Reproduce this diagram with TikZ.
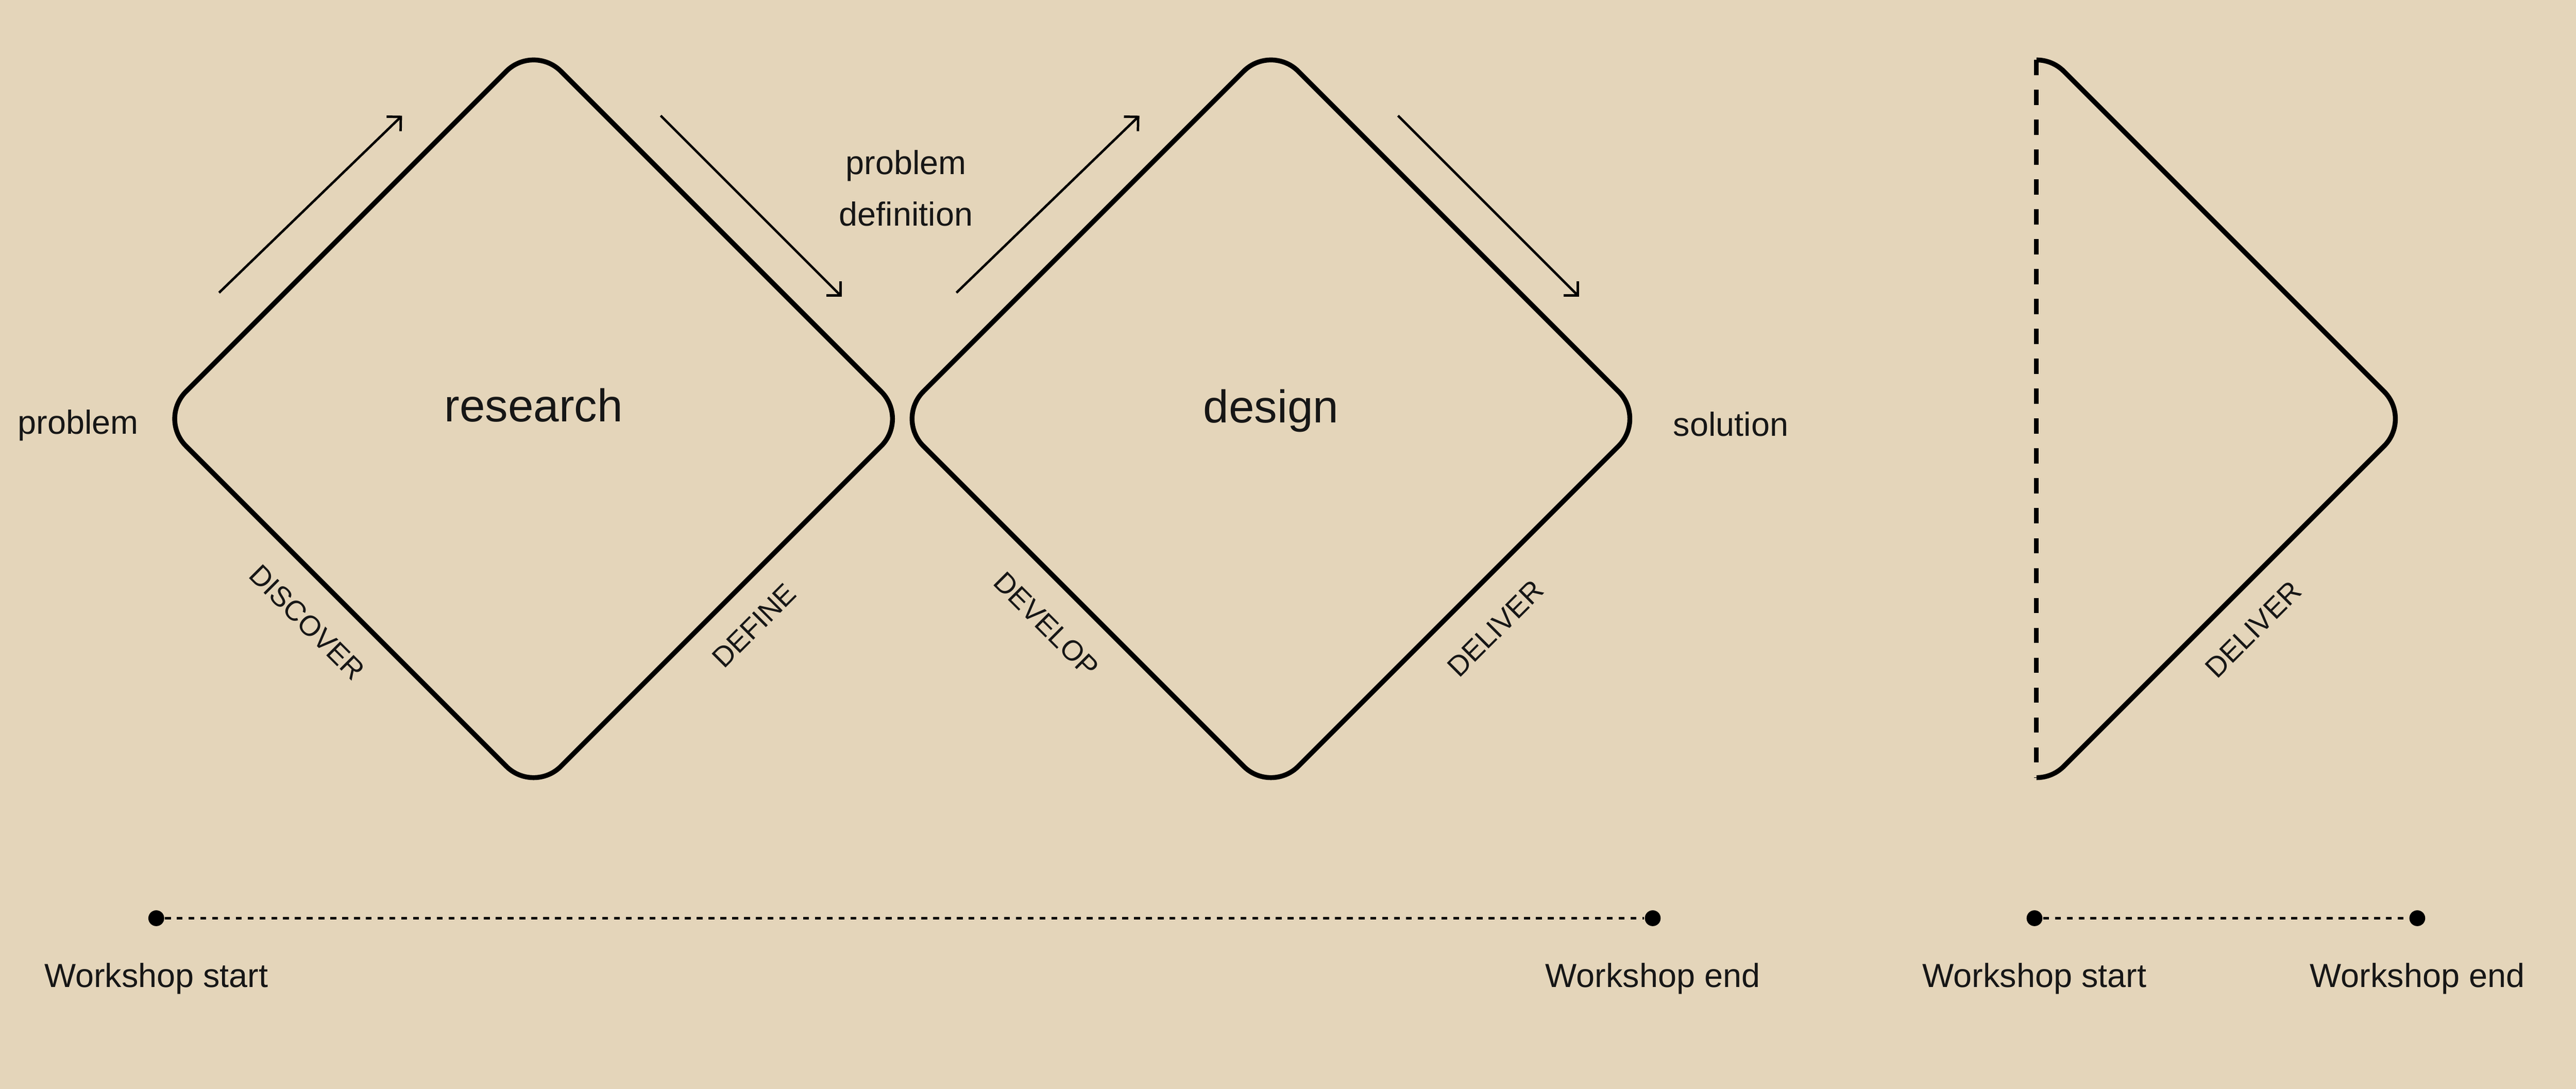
\documentclass[tikz,border=0pt]{standalone}
\usepackage{fontspec}
\setmainfont{Liberation Sans}
\usetikzlibrary{shapes.geometric, arrows.meta, positioning, calc}
\definecolor{paper}{RGB}{228,213,186}
\definecolor{ink}{RGB}{22,22,22}

\begin{document}
\begin{tikzpicture}[
    dm/.style={draw, diamond, minimum size=7.58cm, inner sep=0pt, outer sep=0pt, rounded corners=0.39cm, line width=1.4pt},
    stage/.style={font=\fontsize{13.2}{15}\selectfont, text=ink, anchor=base, inner sep=0pt},
    side/.style={font=\fontsize{9.6}{14.9}\selectfont, text=ink, inner sep=0pt, align=center},
    phase/.style={font=\fontsize{8.2}{10}\selectfont, text=ink, inner sep=0pt},
    flow/.style={-{Straight Barb[length=2.9pt, width=5.8pt]}, line width=0.7pt},
    dot/.style={circle, fill=black, inner sep=0pt, minimum size=0.16cm},
    timeline/.style={line width=0.85pt, dash pattern=on 1.7pt off 1.7pt},
]
    % Background
    \fill[paper] (0,0) rectangle (26.045,11.01);
    \useasboundingbox (0,0) rectangle (26.045,11.01);

    % Diamonds
    \node[dm] (dmA) at (5.395,6.775) {};
    \node[dm] (dmB) at (12.85,6.775) {};
    \begin{scope}
        \clip (20.59,2.5) rectangle (25.5,11);
        \node[dm] (dmC) at (20.59,6.775) {};
    \end{scope}
    \coordinate (cTop) at ($(dmC.north)+(0,-0.16)$);
    \coordinate (cBot) at ($(dmC.south)+(0,0.16)$);
    \draw[line width=1.3pt, dash pattern=on 4.4pt off 4.2pt] (cTop) -- (cBot);

    % Stage names
    \node[stage] (research) at ($(dmA.center)+(0,-0.03)$) {research};
    \node[stage] (design) at ($(dmB.center)+(0,-0.04)$) {design};

    % Side texts
    \node[side, anchor=base] (problem) at (0.79,6.62) {problem};
    \node[side, anchor=base] (solution) at (17.5,6.6) {solution};
    \node[side, anchor=south] (probdef) at (9.16,8.715) {problem\\definition};

    % Phases
    \node[phase, rotate=-45] (discover) at ($(dmA.center)+(-2.29,-2.06)$) {DISCOVER};
    \node[phase, rotate=45] (define) at ($(dmA.center)+(2.23,-2.09)$) {DEFINE};
    \node[phase, rotate=-45] (develop) at ($(dmB.center)+(-2.27,-2.08)$) {DEVELOP};
    \node[phase, rotate=45] (deliverB) at ($(dmB.center)+(2.27,-2.12)$) {DELIVER};
    \node[phase, rotate=45] (deliverC) at ($(dmC.center)+(2.19,-2.13)$) {DELIVER};

    % Arrows
    \coordinate (upA1) at ($(dmA.center)+(-3.18,1.275)$);
    \coordinate (upA2) at ($(dmA.center)+(-1.33,3.065)$);
    \coordinate (dnA1) at ($(dmA.center)+(1.285,3.065)$);
    \coordinate (dnA2) at ($(dmA.center)+(3.115,1.235)$);
    \coordinate (upB1) at ($(dmB.center)+(-3.18,1.275)$);
    \coordinate (upB2) at ($(dmB.center)+(-1.33,3.065)$);
    \coordinate (dnB1) at ($(dmB.center)+(1.285,3.065)$);
    \coordinate (dnB2) at ($(dmB.center)+(3.115,1.235)$);
    \draw[flow] (upA1) -- (upA2);
    \draw[flow] (dnA1) -- (dnA2);
    \draw[flow] (upB1) -- (upB2);
    \draw[flow] (dnB1) -- (dnB2);

    % Timelines
    \node[dot] (ws1) at (1.58,1.725) {};
    \node[dot] (we1) at (16.71,1.725) {};
    \node[dot] (ws2) at (20.57,1.725) {};
    \node[dot] (we2) at (24.44,1.725) {};
    \draw[timeline] (ws1) -- (we1);
    \draw[timeline] (ws2) -- (we2);
    \node[side, below=0.36cm of ws1] (ws1txt) {Workshop start};
    \node[side, below=0.36cm of we1] (we1txt) {Workshop end};
    \node[side, below=0.36cm of ws2] (ws2txt) {Workshop start};
    \node[side, below=0.36cm of we2] (we2txt) {Workshop end};
\end{tikzpicture}
\end{document}
